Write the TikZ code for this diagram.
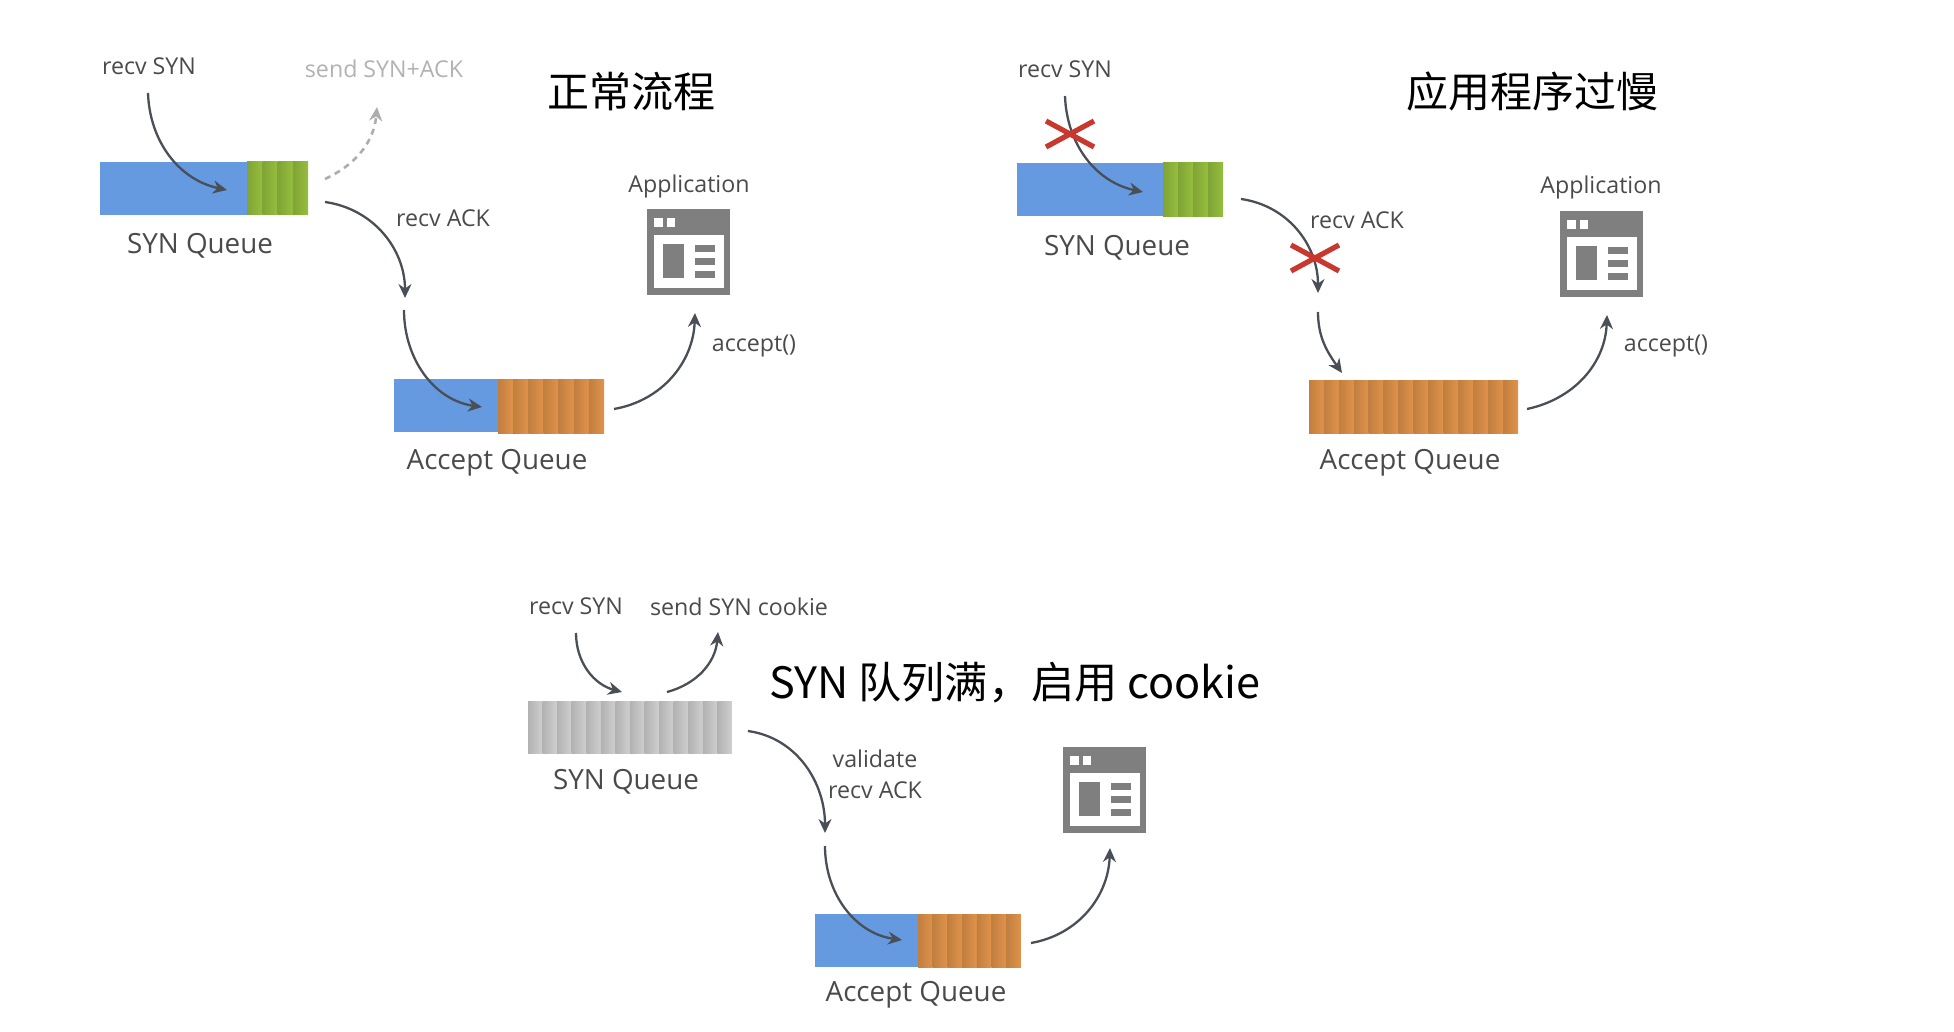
\documentclass[tikz,border=0pt]{standalone}
\usepackage{fontspec}
\setmainfont{Open Sans}
\newfontfamily\cjk{Noto Sans CJK SC}
\usetikzlibrary{arrows.meta}
\definecolor{qblue}{HTML}{659AE0}
\definecolor{qgreen}{HTML}{95BE3E}
\definecolor{qorange}{HTML}{E0934A}
\definecolor{qgrey}{HTML}{CFCFCF}
\definecolor{gline}{HTML}{4A4F57}
\definecolor{gicon}{HTML}{7F7F7F}
\definecolor{gtext}{HTML}{4A4A4A}
\definecolor{crossred}{HTML}{C9382E}

% stripes of a queue: x, top, bottom, count, slot width, colour
\newcommand{\slots}[6]{%
  \foreach \k in {1,...,#4} {
    \pgfmathsetmacro{\xa}{#1+(\k-1)*#5}
    \pgfmathsetmacro{\xb}{#1+\k*#5}
    \shade[left color=#6!86!black,right color=#6] (\xa,#2) rectangle (\xb,#3);
  }}

\begin{document}
\begin{tikzpicture}[
  x=0.5pt,y=-0.5pt,
  bar/.style={anchor=north west,fill=qblue,inner sep=0pt,outer sep=0pt,minimum height=26.5pt},
  lab/.style={font=\fontsize{11.6}{13}\selectfont,text=gtext,inner sep=0pt},
  qlab/.style={font=\fontsize{13.9}{15}\selectfont,text=gtext,inner sep=0pt},
  head/.style={font=\cjk\fontsize{21}{24}\selectfont,text=black,inner sep=0pt},
  a/.style={-{Stealth[length=7pt,width=6.5pt]},gline,line width=1.15pt},
  faint/.style={-{Stealth[length=7pt,width=6.5pt]},black!32,line width=1.3pt,dash pattern=on 3pt off 2.5pt},
  cross/.style={crossred,line width=2.6pt},
  appicon/.pic={
    \fill[gicon] (0,0) rectangle (83,86);
    \fill[white] (7,26) rectangle (77,79);
    \fill[white] (7,9) rectangle (16,18);
    \fill[white] (19.5,9) rectangle (28,18);
    \fill[gicon] (15.6,35) rectangle (36.5,69);
    \fill[gicon] (47.6,36) rectangle (68,43);
    \fill[gicon] (47.6,49) rectangle (68,56);
    \fill[gicon] (47.6,62) rectangle (68,69);
  }]
\useasboundingbox (0,0) rectangle (1954,1032);

% normal flow
\node[head] (headA) at (631,92) {正常流程};
\node[bar,minimum width=73.5pt] (synA) at (100,162) {};
\slots{247}{162}{215}{4}{15.25}{qgreen}
\node[qlab] (synlabA) at (200,246) {SYN Queue};
\node[bar,minimum width=105pt] (accA) at (394,379) {};
\slots{498}{379}{433}{7}{15.15}{qorange}
\node[qlab] (acclabA) at (497,463) {Accept Queue};
\node[lab] (rsynA) at (149,66) {recv SYN};
\node[lab,text=black!30] (sendA) at (384,69) {send SYN+ACK};
\node[lab] (rackA) at (443,218) {recv ACK};
\node[lab] (appA) at (689,186) {Application};
\node[lab] (callA) at (754,346) {accept()};
\pic (iconA) at (647,209) {appicon};
\coordinate (a1) at (148,93);
\coordinate (a2) at (227,190);
\coordinate (a3) at (325,179);
\coordinate (a4) at (377,107);
\coordinate (a5) at (325,202);
\coordinate (a6) at (405,298);
\coordinate (a7) at (404,310);
\coordinate (a8) at (482,407);
\coordinate (a9) at (614,409);
\coordinate (a10) at (695,313);
\draw[a] (a1) to[out=-88,in=168] (a2);
\draw[faint] (a3) to[out=25,in=-95] (a4);
\draw[a] (a5) to[out=-8,in=90] (a6);
\draw[a] (a7) to[out=-90,in=172] (a8);
\draw[a] (a9) to[out=10,in=-92] (a10);

% slow application
\node[head] (headB) at (1532,92) {应用程序过慢};
\node[bar,minimum width=73pt] (synB) at (1017,163) {};
\slots{1163}{163}{217}{4}{15}{qgreen}
\node[qlab] (synlabB) at (1117,248) {SYN Queue};
\node[bar,minimum width=104.5pt] (accB) at (1309,380) {};
\slots{1309}{380}{433}{14}{14.93}{qorange}
\node[qlab] (acclabB) at (1410,463) {Accept Queue};
\node[lab] (rsynB) at (1065,69) {recv SYN};
\node[lab] (rackB) at (1357,220) {recv ACK};
\node[lab] (appB) at (1601,187) {Application};
\node[lab] (callB) at (1666,346) {accept()};
\pic (iconB) at (1560,211) {appicon};
\coordinate (b1) at (1065,96);
\coordinate (b2) at (1143,192);
\coordinate (b5) at (1241,199);
\coordinate (b6) at (1318,293);
\coordinate (b7) at (1318,312);
\coordinate (b8) at (1342,373);
\coordinate (b9) at (1527,409);
\coordinate (b10) at (1607,315);
\draw[a] (b1) to[out=-88,in=168] (b2);
\draw[a] (b5) to[out=-8,in=90] (b6);
\draw[a] (b7) to[out=-90,in=125] (b8);
\draw[a] (b9) to[out=12,in=-92] (b10);
\coordinate (xa) at (1070,134);
\coordinate (xb) at (1315,258);
\draw[cross] ([shift={(-24,-13)}]xa) -- ([shift={(24,13)}]xa);
\draw[cross] ([shift={(-24,13)}]xa) -- ([shift={(24,-13)}]xa);
\draw[cross] ([shift={(-24,-13)}]xb) -- ([shift={(24,13)}]xb);
\draw[cross] ([shift={(-24,13)}]xb) -- ([shift={(24,-13)}]xb);

% syn queue full
\node[head,font=\cjk\fontsize{21.6}{24}\selectfont] (headC) at (1015,683) {SYN 队列满，启用 cookie};
\slots{528}{701}{753}{14}{14.57}{qgrey}
\node[bar,fill=none,minimum width=102pt] (synC) at (528,701) {};
\node[qlab] (synlabC) at (626,782) {SYN Queue};
\node[bar,minimum width=103pt] (accC) at (815,914) {};
\slots{918}{914}{967}{7}{14.7}{qorange}
\node[qlab] (acclabC) at (916,995) {Accept Queue};
\node[lab] (rsynC) at (576,606) {recv SYN};
\node[lab] (sendC) at (739,607) {send SYN cookie};
\node[lab] (valC) at (875,759) {validate};
\node[lab] (rackC) at (875,790) {recv ACK};
\pic (iconC) at (1063,747) {appicon};
\coordinate (c1) at (576,633);
\coordinate (c2) at (622,692);
\coordinate (c3) at (667,692);
\coordinate (c4) at (718,632);
\coordinate (c5) at (748,731);
\coordinate (c6) at (825,833);
\coordinate (c7) at (825,846);
\coordinate (c8) at (902,940);
\coordinate (c9) at (1031,943);
\coordinate (c10) at (1110,848);
\draw[a] (c1) to[out=-90,in=165] (c2);
\draw[a] (c3) to[out=15,in=-95] (c4);
\draw[a] (c5) to[out=-8,in=90] (c6);
\draw[a] (c7) to[out=-90,in=172] (c8);
\draw[a] (c9) to[out=10,in=-92] (c10);
\end{tikzpicture}
\end{document}
